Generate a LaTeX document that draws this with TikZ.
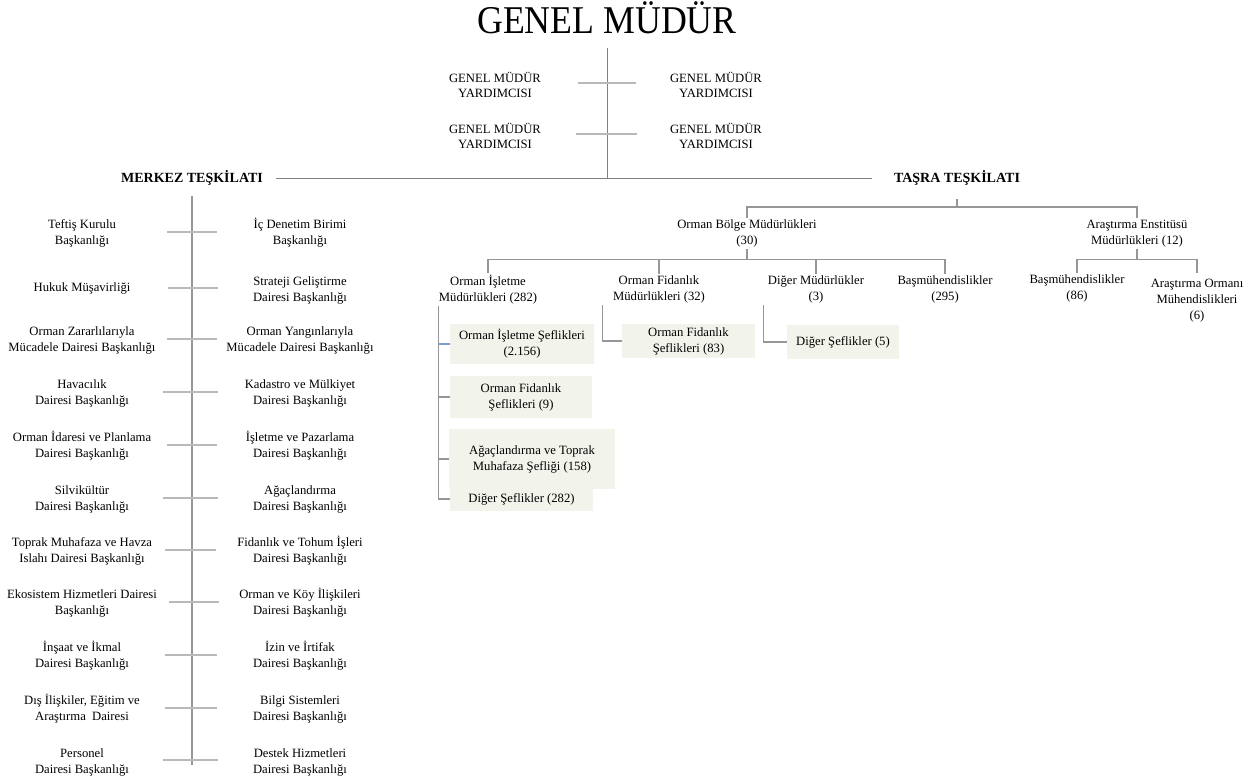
\documentclass[tikz,border=0pt]{standalone}
\usepackage{fontspec}
\setmainfont{Liberation Serif}
\newfontfamily\titlefont[FakeStretch=0.91]{Liberation Serif}
\definecolor{seflikfill}{RGB}{242,244,235}
\definecolor{hatgray}{RGB}{128,128,128}
\definecolor{linegray}{RGB}{150,150,150}
\definecolor{tickgray}{RGB}{185,185,185}
\definecolor{tickblue}{RGB}{120,160,210}
\tikzset{
  birim/.style = {align = center, inner xsep = 0pt, inner ysep = 1pt, font = \fontsize{9.5}{12}\selectfont},
  yrd/.style = {birim, font = \fontsize{9.5}{11.25}\selectfont},
  teskilat/.style = {inner sep = 0pt, font = \bfseries\fontsize{10.5}{12}\selectfont},
  seflik/.style args = {#1:#2}{birim, fill = seflikfill, inner sep = 0pt,
    minimum width = #1*0.75pt, minimum height = #2*0.75pt},
  hat/.style = {draw = hatgray, line width = 0.75pt},
  baglanti/.style = {draw = linegray, line width = 0.9pt},
  trunk/.style = {draw = linegray, line width = 1.5pt},
  tick/.style = {draw = tickgray, line width = 1.5pt}
}

\begin{document}
\begin{tikzpicture}[x = 0.75pt, y = -0.75pt]

			\useasboundingbox (0, 0) rectangle (1257, 783);

			\node[font = \titlefont\fontsize{29.5}{30}\selectfont, inner sep = 0pt, outer ysep = 11pt, anchor = base] (gm) at (607, 33) {GENEL MÜDÜR};
			\coordinate (gmHub) at (607, 178);
			\draw[hat] (gm.south) -- (gmHub); % ana hat

			% genel mudur yardimcilari
			\node[yrd] (gmy1) at (495, 84.5) {GENEL MÜDÜR\\YARDIMCISI};
			\node[yrd] (gmy2) at (716, 84.5) {GENEL MÜDÜR\\YARDIMCISI};
			\node[yrd] (gmy3) at (495, 135.5) {GENEL MÜDÜR\\YARDIMCISI};
			\node[yrd] (gmy4) at (716, 135.5) {GENEL MÜDÜR\\YARDIMCISI};
			\draw[tick, line width = 2pt] (578, 83) -- (636, 83);
			\draw[tick, line width = 2pt] (576, 134) -- (637, 134);

			\node[teskilat] (merkez) at (192, 178) {MERKEZ TEŞKİLATI};
			\node[teskilat] (tasra) at (957, 178) {TAŞRA TEŞKİLATI};
			\draw[hat] ([xshift = 9.75pt]merkez.east) -- ([xshift = -16.5pt]tasra.west);

			% merkez teskilati
			\coordinate (merkezSon) at (192, 765);
			\draw[trunk] ([yshift = -8pt]merkez.south) -- (merkezSon);

			\node[birim] (sol1) at (82, 233) {Teftiş Kurulu\\Başkanlığı};
			\node[birim] (sag1) at (300, 233) {İç Denetim Birimi\\Başkanlığı};
			\draw[tick] (167, 232) -- (217, 232);

			\node[birim] (sol2) at (82, 288) {Hukuk Müşavirliği};
			\node[birim] (sag2) at (300, 290) {Strateji Geliştirme\\Dairesi Başkanlığı};
			\draw[tick] (168, 288) -- (218, 288);

			\node[birim] (sol3) at (82, 340) {Orman Zararlılarıyla\\Mücadele Dairesi Başkanlığı};
			\node[birim] (sag3) at (300, 340) {Orman Yangınlarıyla\\Mücadele Dairesi Başkanlığı};
			\draw[tick] (167, 339) -- (217, 339);

			\node[birim] (sol4) at (82, 393) {Havacılık\\Dairesi Başkanlığı};
			\node[birim] (sag4) at (300, 393) {Kadastro ve Mülkiyet\\Dairesi Başkanlığı};
			\draw[tick] (163, 392) -- (218, 392);

			\node[birim] (sol5) at (82, 446) {Orman İdaresi ve Planlama\\Dairesi Başkanlığı};
			\node[birim] (sag5) at (300, 446) {İşletme ve Pazarlama\\Dairesi Başkanlığı};
			\draw[tick] (167, 445) -- (217, 445);

			\node[birim] (sol6) at (82, 499) {Silvikültür\\Dairesi Başkanlığı};
			\node[birim] (sag6) at (300, 499) {Ağaçlandırma\\Dairesi Başkanlığı};
			\draw[tick] (163, 498) -- (218, 498);

			\node[birim] (sol7) at (82, 551) {Toprak Muhafaza ve Havza\\Islahı Dairesi Başkanlığı};
			\node[birim] (sag7) at (300, 551) {Fidanlık ve Tohum İşleri\\Dairesi Başkanlığı};
			\draw[tick] (165, 550) -- (216, 550);

			\node[birim] (sol8) at (82, 603) {Ekosistem Hizmetleri Dairesi\\Başkanlığı};
			\node[birim] (sag8) at (300, 603) {Orman ve Köy İlişkileri\\Dairesi Başkanlığı};
			\draw[tick] (169, 602) -- (219, 602);

			\node[birim] (sol9) at (82, 656) {İnşaat ve İkmal\\Dairesi Başkanlığı};
			\node[birim] (sag9) at (300, 656) {İzin ve İrtifak\\Dairesi Başkanlığı};
			\draw[tick] (165, 655) -- (217, 655);

			\node[birim] (sol10) at (82, 709) {Dış İlişkiler, Eğitim ve\\Araştırma\ \ Dairesi};
			\node[birim] (sag10) at (300, 709) {Bilgi Sistemleri\\Dairesi Başkanlığı};
			\draw[tick] (165, 708) -- (217, 708);

			\node[birim] (sol11) at (82, 762) {Personel\\Dairesi Başkanlığı};
			\node[birim] (sag11) at (300, 762) {Destek Hizmetleri\\Dairesi Başkanlığı};
			\draw[tick] (163, 760) -- (218, 760);

			% tasra teskilati
			\node[birim] (obm) at (747, 233.5) {Orman Bölge Müdürlükleri\\(30)};
			\node[birim] (aem) at (1137, 233.5) {Araştırma Enstitüsü\\Müdürlükleri (12)};
			\draw[baglanti] ([yshift = -10pt]tasra.south) -- ++(0, 8) -| (obm.north);
			\draw[baglanti] ([yshift = -10pt]tasra.south) -- ++(0, 8) -| (aem.north);

			\node[birim] (oim) at (488, 289.5) {Orman İşletme\\Müdürlükleri (282)};
			\node[birim] (ofm) at (659, 289.5) {Orman Fidanlık\\Müdürlükleri (32)};
			\node[birim] (dm) at (816, 289.5) {Diğer Müdürlükler\\(3)};
			\node[birim] (bm1) at (945, 289.5) {Başmühendislikler\\(295)};
			\draw[baglanti] (obm.south) -- ++(0, 11) -| (oim.north);
			\draw[baglanti] (obm.south) -- ++(0, 11) -| (ofm.north);
			\draw[baglanti] (obm.south) -- ++(0, 11) -| (dm.north);
			\draw[baglanti] (obm.south) -- ++(0, 11) -| (bm1.north);

			\node[birim] (bm2) at (1077, 288) {Başmühendislikler\\(86)};
			\node[birim] (aom) at (1197, 301) {Araştırma Ormanı\\Mühendislikleri\\(6)};
			\draw[baglanti] (aem.south) -- ++(0, 11) -| (bm2.north);
			\draw[baglanti] (aem.south) -- ++(0, 11) -| (aom.north |- bm2.north);

			% seflikler
			\node[seflik = 144:40] (s1) at (522, 344) {Orman İşletme Şeflikleri\\(2.156)};
			\node[seflik = 142:42] (s2) at (521, 397) {Orman Fidanlık\\Şeflikleri (9)};
			\node[seflik = 166:60] (s3) at (532, 459) {Ağaçlandırma ve Toprak\\Muhafaza Şefliği (158)};
			\node[seflik = 143:24] (s4) at (521.5, 499) {Diğer Şeflikler (282)};
			\node[seflik = 133:34] (s5) at (688.5, 341) {Orman Fidanlık\\Şeflikleri (83)};
			\node[seflik = 112:34] (s6) at (843, 342) {Diğer Şeflikler (5)};

			\draw[baglanti] (oim.south west) |- (s4.west);
			\draw[baglanti] (oim.south west |- s2.west) -- (s2.west);
			\draw[baglanti] (oim.south west |- s3.west) -- (s3.west);
			\draw[baglanti, draw = tickblue] (oim.south west |- s1.west) -- (s1.west);
			\draw[baglanti] ([xshift = -7.5pt]ofm.south west) |- (s5.west);
			\draw[baglanti] ([xshift = -3pt]dm.south west) |- (s6.west);
		\end{tikzpicture}
\end{document}
